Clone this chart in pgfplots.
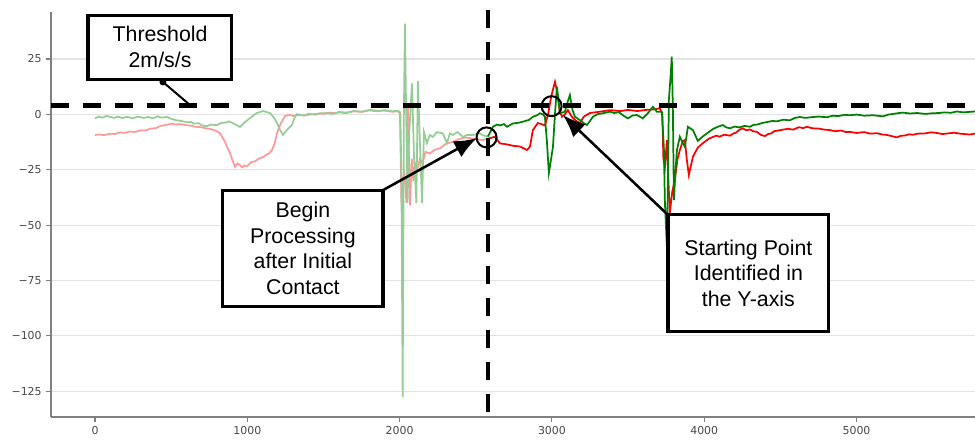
\documentclass[border=0pt]{standalone}
\usepackage{fontspec}
\setmainfont{Liberation Sans}
\newfontfamily\dejavu{DejaVu Sans}
\usepackage{pgfplots}
\pgfplotsset{compat=1.18}
\usetikzlibrary{arrows.meta}
\definecolor{fred}{RGB}{255,152,152}
\definecolor{fgreen}{RGB}{150,204,150}
\definecolor{bred}{RGB}{255,0,0}
\definecolor{bgreen}{RGB}{0,128,0}
\begin{document}
\begin{tikzpicture}
\useasboundingbox (-38.25pt,-17.25pt) rectangle (693pt,312.75pt);
\begin{axis}[
  at={(0,0)}, anchor=south west,
  scale only axis, width=693pt, height=303.75pt,
  xmin=-289, xmax=5778, ymin=-136.6, ymax=46.2,
  clip=false,
  axis x line*=bottom, axis y line*=left,
  axis line style={-, draw=gray, line width=0.8pt},
  xtick={0,1000,2000,3000,4000,5000},
  xticklabels={0,1000,2000,3000,4000,5000},
  ytick={-125,-100,-75,-50,-25,0,25},
  yticklabels={−125,−100,−75,−50,−25,0,25},
  ymajorgrids, grid style={gray!22, line width=0.8pt},
  tick align=outside, major tick length=3.5pt,
  tick style={gray, line width=0.8pt},
  ticklabel style={font=\dejavu\fontsize{8.2}{9}\selectfont, text=black!72},
]
% faded red
\addplot[fred, line width=1.3pt] coordinates {
(0,-9.3)(30,-9.1)(60,-9.4)(100,-8.7)(130,-8.9)(160,-8.2)(200,-8.3)(230,-7.7)(260,-8.0)(300,-7.2)(330,-7.3)(360,-6.5)(400,-6.2)(430,-5.2)(460,-4.9)(500,-4.2)(530,-4.6)(560,-4.4)(600,-4.9)(630,-5.1)(660,-5.6)(700,-5.8)(730,-6.4)(755,-6.5)(790,-7.3)(821,-8.5)(850,-12)(886,-17.5)(919,-23.7)(935,-22.2)(950,-22.8)(965,-23.9)(980,-23.1)(1000,-23.3)(1025,-21.6)(1050,-21.2)(1075,-20.0)(1103,-19.3)(1125,-18.2)(1140,-17.8)(1162,-16.1)(1180,-13)(1195,-8.5)(1220,-4)(1247,-0.8)(1275,-0.2)(1300,-0.7)(1346,-0.2)(1375,-0.6)(1400,0.3)(1450,-0.2)(1480,0.5)(1500,0.2)(1543,0.8)(1580,0.5)(1600,1.1)(1650,0.8)(1700,1.4)(1750,1.1)(1805,2.0)(1850,1.6)(1900,1.7)(1950,1.2)(1990,1.3)
(2002,1)(2012,-40)(2030,-25)(2045,-40)(2055,3)(2068,-41)(2080,-20)(2090,-30)(2101,-22)(2115,-25)(2134,-20)(2150,-22)(2170,-17)(2199,-17.6)(2230,-16)(2265,-15.3)(2290,-14)(2311,-13)(2350,-12.5)(2396,-11)(2430,-10.5)(2462,-10.7)(2500,-11.2)(2547,-11.6)(2580,-11)
};
% faded green
\addplot[fgreen, line width=1.3pt] coordinates {
(0,-1.8)(25,-1.0)(50,-1.5)(75,-0.7)(98,-1.1)(125,-1.6)(150,-1.0)(180,-1.7)(210,-1.1)(249,-1.8)(280,-1.0)(320,-1.6)(350,-1.2)(380,-1.8)(410,-0.9)(440,-1.5)(472,-1.1)(500,-2.0)(530,-2.6)(560,-2.9)(604,-3.6)(630,-3.4)(650,-4.2)(680,-4.0)(700,-4.9)(735,-5.4)(760,-4.6)(800,-4.9)(830,-3.8)(860,-3.7)(880,-3.2)(906,-4.0)(952,-5.7)(985,-3.5)(1018,-1.7)(1060,0.5)(1103,1.5)(1149,0.6)(1175,-1.5)(1195,-3.9)(1215,-7)(1234,-9.3)(1260,-7)(1293,-4.8)(1310,-1.5)(1326,0.1)(1370,-0.5)(1411,-0.1)(1460,0.3)(1523,0.6)(1560,0.2)(1600,0.9)(1650,0.6)(1700,1.5)(1750,1.2)(1800,1.8)(1850,1.4)(1900,1.9)(1950,1.4)(1990,1.6)
(2005,0)(2012,-30)(2020,-127.6)(2028,0)(2035,41)(2042,5)(2052,-40)(2062,-10)(2081,14)(2095,-20)(2110,-40)(2120,15)(2132,-10)(2147,-40)(2160,-8)(2179,-13)(2199,-9.3)(2219,-10.2)(2245,-8)(2284,-8.6)(2311,-13)(2330,-8.6)(2350,-9.3)(2380,-8)(2416,-10.2)(2442,-9.3)(2481,-9.3)(2527,-8.6)(2547,-9.5)(2580,-10)
};
% bright red
\addplot[bred, line width=1.3pt] coordinates {
(2580,-11)(2626,-10.1)(2659,-13.1)(2700,-13.5)(2745,-14.2)(2790,-14.5)(2836,-16.1)(2856,-14.6)(2875,-7.1)(2908,-3.9)(2935,-4.5)(2954,-5.0)(2975,0)(2995,8)(3020,14.7)(3035,10)(3050,2)(3066,-1.1)(3085,0)(3105,1.9)(3130,-1)(3160,-3)(3184,-3.9)(3210,-1)(3250,0.6)(3315,1.2)(3381,1.9)(3450,1.5)(3500,2.0)(3560,1.5)(3620,2.0)(3680,2.3)(3709,2.8)(3725,0)(3732,-20)(3742,-23.8)(3755,-11.6)(3765,-30)(3774,-44.6)(3790,-35)(3807,-29.6)(3825,-20)(3840,-16.1)(3860,-12)(3873,-11.6)(3885,-20)(3899,-27.4)(3926,-19.1)(3958,-15)(3991,-13.0)(4030,-11)
(4057,-10.2)(4080,-9.6)(4100,-10.1)(4130,-9.2)(4169,-9.6)(4190,-8.7)(4210,-8.2)(4230,-7.0)(4254,-6.3)(4275,-7.2)(4300,-6.8)(4320,-7.6)(4346,-7.9)(4370,-9.2)(4398,-9.8)(4420,-8.9)(4440,-8.6)(4460,-7.6)(4477,-7.4)(4510,-7.0)(4550,-6.5)(4585,-6.9)(4620,-5.8)(4650,-6.2)(4674,-5.6)(4710,-6.3)(4750,-6.4)(4790,-6.9)(4825,-7.1)(4860,-7.6)(4900,-7.3)(4930,-8.0)(4956,-7.9)(5000,-8.4)(5050,-8.0)(5090,-8.7)(5134,-8.5)(5170,-9.1)(5200,-9.3)(5230,-9.8)(5265,-10.4)(5290,-9.7)(5320,-9.5)(5345,-9.0)(5370,-9.2)(5410,-8.6)(5450,-8.6)(5490,-8.1)(5528,-8.4)(5565,-8.9)(5600,-8.6)(5640,-8.3)(5680,-8.7)(5710,-8.9)(5745,-9.1)(5777,-8.7)
};
% bright green
\addplot[bgreen, line width=1.3pt] coordinates {
(2580,-10)(2613,-5.6)(2640,-4.6)(2660,-5.0)(2685,-4.4)(2705,-5.6)(2744,-4.1)(2780,-3.8)(2810,-3.3)(2850,-2.5)(2875,-1.1)(2900,-0.5)(2921,0.5)(2941,0)(2954,-1.1)(2967,-12)(2980,-26.5)(2995,-20)(3007,-14.6)(3020,0)(3033,12.5)(3045,5)(3053,0.5)(3085,1.2)(3105,6)(3118,8.7)(3135,2)(3151,-1.1)(3184,-2.6)(3210,-4.0)(3230,-4.8)(3250,-3)(3269,-1.1)(3300,0.1)(3335,0.5)(3381,1.2)(3410,0.6)(3440,1.0)(3470,-0.6)(3499,-1.8)(3530,-0.5)(3558,-0.3)(3597,-1.8)(3630,0.5)(3663,3.4)(3689,1.2)(3722,1.2)(3735,-15)(3742,-40)(3755,-60)(3762,-30)(3768,6.5)(3780,18)(3787,26)(3794,3.4)(3801,-38.7)(3812,-25)(3821,-16.1)(3840,-10.1)(3860,-13)(3873,-14.6)(3893,-5.6)(3926,-7.1)(3958,-12)(3990,-10)
(4018,-8.6)(4040,-7.5)(4060,-6.5)(4090,-5.6)(4122,-4.8)(4145,-5.9)(4169,-6.3)(4200,-5.5)(4230,-5.9)(4265,-5.2)(4300,-5.6)(4325,-4.7)(4350,-4.6)(4380,-3.9)(4412,-3.5)(4445,-3.0)(4480,-3.1)(4520,-2.4)(4562,-2.7)(4595,-1.6)(4628,-1.2)(4665,-1.6)(4700,-1.3)(4750,-1.0)(4805,-1.3)(4845,-0.6)(4880,-0.8)(4920,-0.2)(4956,-0.4)(5000,-0.1)(5050,-0.6)(5110,-0.4)(5173,-0.9)(5210,-0.1)(5250,0.3)(5280,0.6)(5304,0.8)(5350,0.4)(5400,0.6)(5450,0.2)(5501,0.5)(5540,0.6)(5580,0.9)(5620,0.7)(5659,1.3)(5700,0.9)(5740,1.1)(5777,1.3)
};
% threshold and start lines
\draw[black, line width=3.3pt, dash pattern=on 13.5pt off 10.5pt] (axis cs:-289,4) -- (axis cs:5778,4);
\draw[black, line width=3pt, dash pattern=on 13.5pt off 10.5pt] (axis cs:2580,47) -- (axis cs:2580,-135);
% circles
\draw[black, line width=1.5pt] (axis cs:2571,-10.4) circle[radius=7.5pt];
\draw[black, line width=1.5pt] (axis cs:2998,3.7) circle[radius=7.5pt];
% threshold box
\draw[black, line width=1.5pt] (axis cs:446,14.6) -- (axis cs:624,4.2);
\fill[black] (axis cs:446,14.6) circle[radius=2.6pt];
\draw[black, line width=2.3pt, fill=white] (axis cs:-46,44.8) rectangle (axis cs:899,15.9);
\node[align=center, font=\fontsize{16}{19.2}\selectfont, inner sep=0pt] at (axis cs:427,30.4) {Threshold\\2m/s/s};
% begin processing box
\draw[black, line width=1.9pt, -{Latex[length=17pt,width=13.5pt]}] (axis cs:1891,-34.2) -- (axis cs:2508,-10.7);
\draw[black, line width=2.3pt, fill=white] (axis cs:840,-34.2) rectangle (axis cs:1891,-86.6);
\node[align=center, font=\fontsize{16}{19.2}\selectfont, inner sep=0pt] at (axis cs:1365,-60.4) {Begin\\Processing\\after Initial\\Contact};
% starting point box
\draw[black, line width=1.9pt, -{Latex[length=17pt,width=13.5pt]}] (axis cs:3762,-45.4) -- (axis cs:3072,-0.3);
\draw[black, line width=2.3pt, fill=white] (axis cs:3762,-45.4) rectangle (axis cs:4818,-97.8);
\node[align=center, font=\fontsize{16}{19.2}\selectfont, inner sep=0pt] at (axis cs:4290,-71.6) {Starting Point\\Identified in\\the Y-axis};
\end{axis}
\end{tikzpicture}
\end{document}
